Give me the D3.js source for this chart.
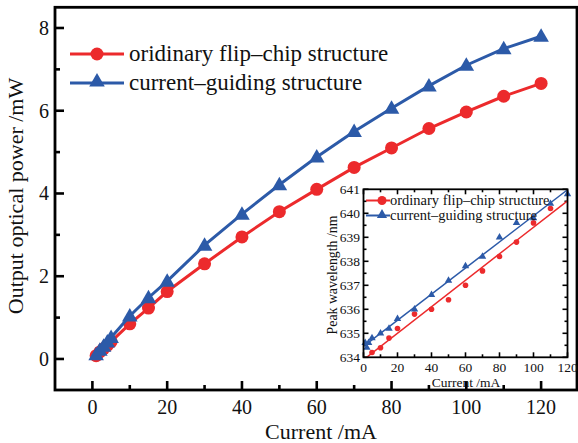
<!DOCTYPE html>
<html><head><meta charset="utf-8">
<script src="https://cdn.jsdelivr.net/npm/d3@7"></script>
<style>body{margin:0;background:#fff}svg{display:block}text{font-family:"Liberation Serif","Times New Roman",serif;fill:#111}</style>
</head><body><svg id="c" width="578" height="443"></svg>
<script>
// ---- main chart data ----
const currents = [1,2,3,4,5,10,15,20,30,40,50,60,70,80,90,100,110,120];
const powerOrdinary = [0.08,0.17,0.25,0.33,0.42,0.85,1.23,1.63,2.3,2.95,3.56,4.1,4.63,5.1,5.57,5.97,6.35,6.66];
const powerGuiding  = [0.1,0.21,0.31,0.41,0.52,1.04,1.48,1.88,2.75,3.5,4.21,4.88,5.5,6.06,6.6,7.1,7.5,7.8];
const mainXTicks = [0,20,40,60,80,100,120];
const mainYTicks = [0,2,4,6,8];
const seriesNames = ["oridinary flip\u2013chip structure","current\u2013guiding structure"];
// ---- inset data ----
const insetOrdX = [5,10,15,20,30,40,50,60,70,80,90,100,110];
const insetOrdY = [634.2,634.4,634.8,635.2,635.8,636.0,636.4,637.0,637.6,638.2,638.8,639.6,640.2];
const insetGuiX = [1,2,3,5,10,15,20,30,40,50,60,70,80,90,100,110,120];
const insetGuiY = [634.6,634.4,634.6,634.8,635.0,635.2,635.6,636.0,636.6,637.2,637.8,638.2,639.0,639.6,639.8,640.4,640.8];
const insetXTicks = [0,20,40,60,80,100,120];
const insetYTicks = [634,635,636,637,638,639,640,641];
const insetNames = ["ordinary flip\u2013chip structure","current\u2013guiding structure"];

const RED = "#ec2a2c", BLUE = "#2c5aa8";
const svg = d3.select("#c");

// ---------- main ----------
const x = d3.scaleLinear().domain([-10,129.6]).range([55,577]);
const y = d3.scaleLinear().domain([-0.75,8.5]).range([390,7.3]);
const g = svg.append("g");

const majX = mainXTicks, minX = d3.range(10,130,20);
const majY = mainYTicks, minY = [1,3,5,7];
g.selectAll(".tx").data(majX).join("line").attr("x1",d=>x(d)).attr("x2",d=>x(d)).attr("y1",390).attr("y2",381).attr("stroke","#000").attr("stroke-width",2.6);
g.selectAll(".tmx").data(minX).join("line").attr("x1",d=>x(d)).attr("x2",d=>x(d)).attr("y1",390).attr("y2",385).attr("stroke","#000").attr("stroke-width",2.6);
g.selectAll(".ty").data(majY).join("line").attr("y1",d=>y(d)).attr("y2",d=>y(d)).attr("x1",55).attr("x2",64).attr("stroke","#000").attr("stroke-width",2.6);
g.selectAll(".tmy").data(minY).join("line").attr("y1",d=>y(d)).attr("y2",d=>y(d)).attr("x1",55).attr("x2",60).attr("stroke","#000").attr("stroke-width",2.6);
g.append("rect").attr("x",55).attr("y",7.3).attr("width",x(129.6)-55).attr("height",390-7.3).attr("fill","none").attr("stroke","#000").attr("stroke-width",2.8);

g.selectAll(".lx").data(majX).join("text").attr("x",d=>x(d)).attr("y",414).attr("text-anchor","middle").attr("font-size",20).text(d=>d);
g.selectAll(".ly").data(majY).join("text").attr("x",49).attr("y",d=>y(d)).attr("dy","0.34em").attr("text-anchor","end").attr("font-size",20).text(d=>d);
g.append("text").attr("x",321).attr("y",439).attr("text-anchor","middle").attr("font-size",22).text("Current /mA");
g.append("text").attr("transform","translate(23,196) rotate(-90)").attr("text-anchor","middle").attr("font-size",22).text("Output optical power /mW");

const line = d3.line().x(d=>x(d[0])).y(d=>y(d[1]));
const ordPts = currents.map((c,i)=>[c,powerOrdinary[i]]);
const guiPts = currents.map((c,i)=>[c,powerGuiding[i]]);
g.append("path").attr("d",line(ordPts)).attr("fill","none").attr("stroke",RED).attr("stroke-width",3);
g.selectAll(".co").data(ordPts).join("circle").attr("cx",d=>x(d[0])).attr("cy",d=>y(d[1])).attr("r",6.5).attr("fill",RED);
g.append("path").attr("d",line(guiPts)).attr("fill","none").attr("stroke",BLUE).attr("stroke-width",3);
const tri = d3.symbol().type(d3.symbolTriangle).size(105);
g.selectAll(".tg").data(guiPts).join("path").attr("d",tri).attr("transform",d=>`translate(${x(d[0])},${y(d[1])+1})`).attr("fill",BLUE);

// legend
const leg = [{c:RED,y:54,m:"c"},{c:BLUE,y:83,m:"t"}];
leg.forEach((l,i)=>{
  g.append("line").attr("x1",70).attr("x2",124).attr("y1",l.y).attr("y2",l.y).attr("stroke",l.c).attr("stroke-width",3);
  if(l.m==="c") g.append("circle").attr("cx",97).attr("cy",l.y).attr("r",6.5).attr("fill",l.c);
  else g.append("path").attr("d",tri).attr("transform",`translate(97,${l.y-1})`).attr("fill",l.c);
  g.append("text").attr("x",129).attr("y",l.y+7).attr("font-size",23).text(seriesNames[i]);
});

// ---------- inset ----------
const ix = d3.scaleLinear().domain([0,120]).range([363.5,567.5]);
const iy = d3.scaleLinear().domain([634,641]).range([357.3,189.3]);
const ig = svg.append("g");
ig.append("rect").attr("x",363.5).attr("y",189.3).attr("width",204).attr("height",168).attr("fill","#fff");
const iMajX = insetXTicks, iMinX = d3.range(10,120,20);
const iMajY = insetYTicks, iMinY = d3.range(634.5,641,1);
function tickSet(data, isX, len){
  data.forEach(v=>{
    if(isX){
      ig.append("line").attr("x1",ix(v)).attr("x2",ix(v)).attr("y1",357.3).attr("y2",357.3-len).attr("stroke","#000").attr("stroke-width",1.6);
      ig.append("line").attr("x1",ix(v)).attr("x2",ix(v)).attr("y1",189.3).attr("y2",189.3+len).attr("stroke","#000").attr("stroke-width",1.6);
    } else {
      ig.append("line").attr("y1",iy(v)).attr("y2",iy(v)).attr("x1",363.5).attr("x2",363.5+len).attr("stroke","#000").attr("stroke-width",1.6);
      ig.append("line").attr("y1",iy(v)).attr("y2",iy(v)).attr("x1",567.5).attr("x2",567.5-len).attr("stroke","#000").attr("stroke-width",1.6);
    }
  });
}
tickSet(iMajX,true,5); tickSet(iMinX,true,3); tickSet(iMajY,false,5); tickSet(iMinY,false,3);

ig.selectAll(".ilx").data(iMajX).join("text").attr("x",d=>ix(d)).attr("y",371.5).attr("text-anchor","middle").attr("font-size",13.5).text(d=>d);
ig.selectAll(".ily").data(iMajY).join("text").attr("x",360).attr("y",d=>iy(d)).attr("dy","0.34em").attr("text-anchor","end").attr("font-size",13.5).text(d=>d);
ig.append("text").attr("x",466).attr("y",386.5).attr("text-anchor","middle").attr("font-size",13.5).text("Current /mA");
ig.append("text").attr("transform","translate(337,275) rotate(-90)").attr("text-anchor","middle").attr("font-size",13.8).text("Peak wavelength /nm");

// least-squares fit lines derived from data
function fit(xs,ys){const mx=d3.mean(xs),my=d3.mean(ys);let sxy=0,sxx=0;xs.forEach((v,i)=>{sxy+=(v-mx)*(ys[i]-my);sxx+=(v-mx)*(v-mx);});const b=sxy/sxx;return [my-b*mx,b];}
svg.append("clipPath").attr("id","ic").append("rect").attr("x",363.5).attr("y",189.3).attr("width",204).attr("height",168);
const fo = fit(insetOrdX,insetOrdY), fg = fit(insetGuiX,insetGuiY);
[[fo,RED],[fg,BLUE]].forEach(([f,c])=>{
  ig.append("line").attr("clip-path","url(#ic)").attr("x1",ix(0)).attr("x2",ix(120)).attr("y1",iy(f[0])).attr("y2",iy(f[0]+f[1]*120)).attr("stroke",c).attr("stroke-width",1.5);
});
ig.selectAll(".io").data(insetOrdX.map((v,i)=>[v,insetOrdY[i]])).join("circle").attr("cx",d=>ix(d[0])).attr("cy",d=>iy(d[1])).attr("r",2.8).attr("fill",RED);
const itri = d3.symbol().type(d3.symbolTriangle).size(24);
ig.selectAll(".ig").data(insetGuiX.map((v,i)=>[v,insetGuiY[i]])).join("path").attr("d",itri).attr("transform",d=>`translate(${ix(d[0])},${iy(d[1])})`).attr("fill",BLUE);

// inset legend
[{c:RED,y:200.5,m:"c"},{c:BLUE,y:215.5,m:"t"}].forEach((l,i)=>{
  ig.append("line").attr("x1",366).attr("x2",390).attr("y1",l.y).attr("y2",l.y).attr("stroke",l.c).attr("stroke-width",2);
  if(l.m==="c") ig.append("circle").attr("cx",382).attr("cy",l.y).attr("r",4.5).attr("fill",l.c);
  else ig.append("path").attr("d",d3.symbol().type(d3.symbolTriangle).size(45)).attr("transform",`translate(382,${l.y-0.5})`).attr("fill",l.c);
  ig.append("text").attr("x",390).attr("y",l.y+4.5).attr("font-size",14.5).text(insetNames[i]);
});
ig.append("rect").attr("x",363.5).attr("y",189.3).attr("width",204).attr("height",168).attr("fill","none").attr("stroke","#000").attr("stroke-width",1.8);
</script></body></html>
